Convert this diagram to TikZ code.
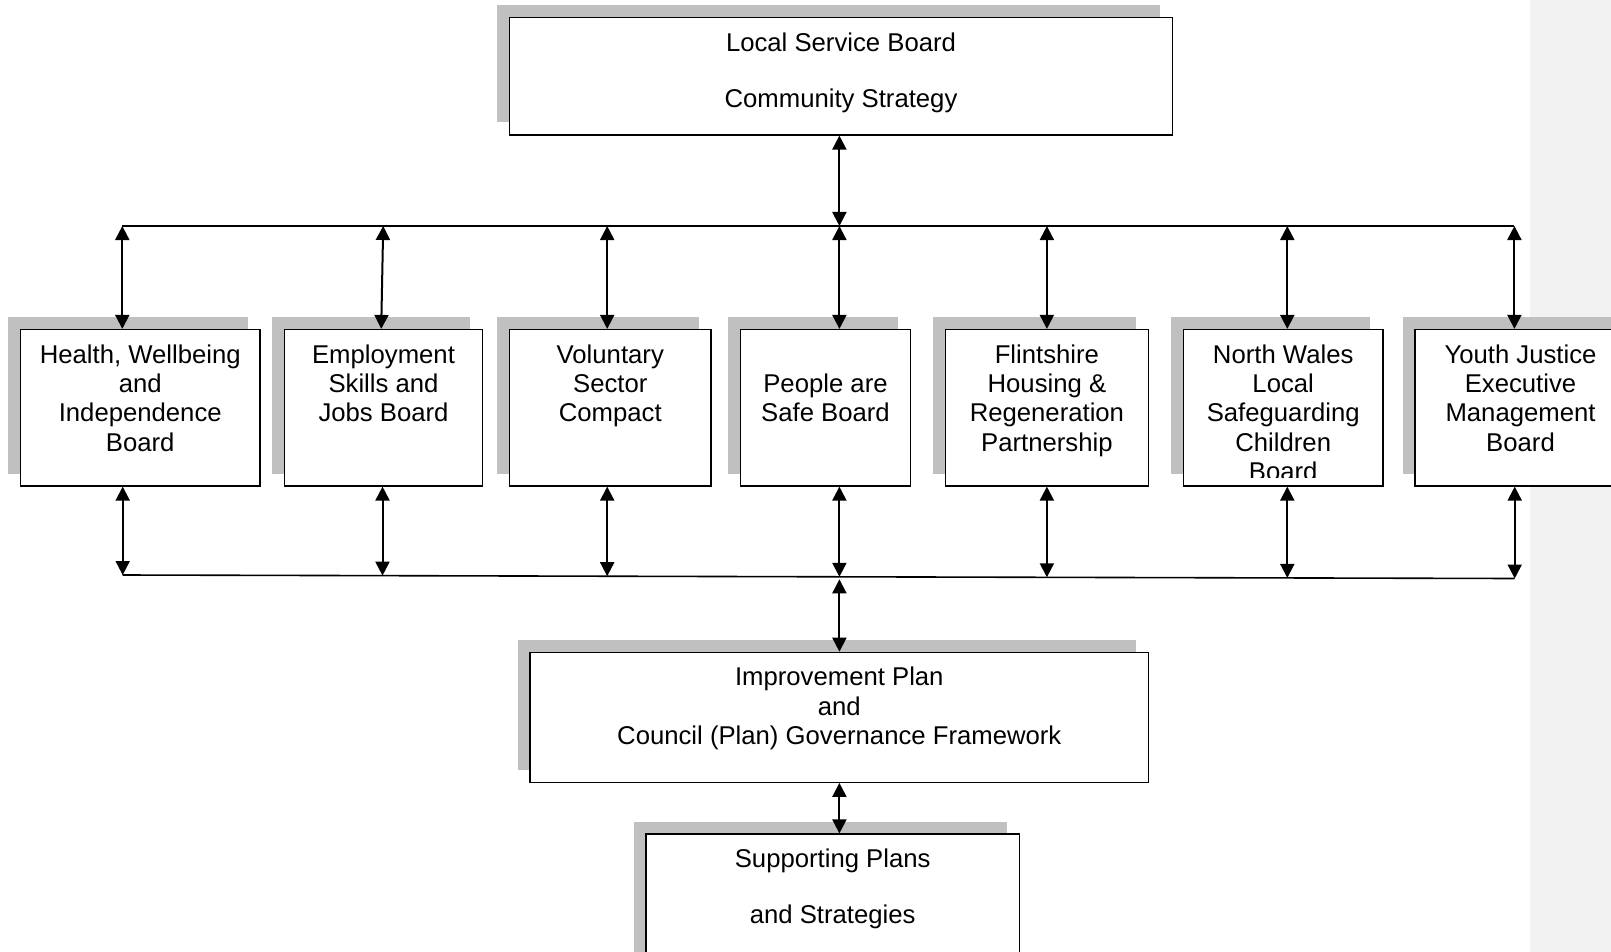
\documentclass[tikz,border=0pt]{standalone}
\usepackage{fontspec}
\setmainfont{Liberation Sans}
\usetikzlibrary{arrows.meta,shadows,calc}
\definecolor{shgray}{HTML}{C0C0C0}
\definecolor{panelgray}{HTML}{F2F2F2}
\begin{document}
\begin{tikzpicture}[x=1pt,y=-1pt,
  box/.style={draw=black, line width=1.2pt, fill=white, inner sep=0pt,
    general shadow={fill=shgray, shadow xshift=-12.5pt, shadow yshift=12.5pt}},
  midbox/.style={box, minimum height=156.5pt},
  lbl/.style={align=center, inner sep=0pt, anchor=north, font=\fontsize{25.7}{29.3}\selectfont},
  dbl/.style={line width=2pt, {Triangle[width=14pt,length=14pt]}-{Triangle[width=14pt,length=14pt]}},
  bus/.style={line width=1.6pt}]
\useasboundingbox (0,0) rectangle (1611,952);
\clip (0,0) rectangle (1611,952);
\fill[white] (0,0) rectangle (1611,952);
\fill[panelgray] (1530,0) rectangle (1611,952);

% top box
\node[box, minimum width=662.7pt, minimum height=117.5pt] (lsb) at (841,76.25) {};
\node[lbl] (lsbt) at ($(lsb.north)+(0,13.5)$) {\strut Local Service Board\\[27.2pt]Community Strategy};

% middle boxes
\node[midbox, minimum width=239.5pt] (hw) at (140.25,407.75) {};
\node[lbl] (hwt) at ($(hw.north)+(0,13.5)$) {\strut Health, Wellbeing\\and\\Independence\\Board};
\node[midbox, minimum width=197.7pt] (emp) at (383.5,407.75) {};
\node[lbl] (empt) at ($(emp.north)+(0,13.5)$) {\strut Employment\\Skills and\\Jobs Board};
\node[midbox, minimum width=201.4pt] (vol) at (610.3,407.75) {};
\node[lbl] (volt) at ($(vol.north)+(0,13.5)$) {\strut Voluntary\\Sector\\Compact};
\node[midbox, minimum width=169.5pt] (peo) at (825.5,407.75) {};
\node[lbl] (peot) at ($(peo.north)+(0,42.8)$) {\strut People are\\Safe Board};
\node[midbox, minimum width=203.4pt] (fli) at (1046.9,407.75) {};
\node[lbl] (flit) at ($(fli.north)+(0,13.5)$) {\strut Flintshire\\Housing \&\\Regeneration\\Partnership};
\node[midbox, minimum width=199.5pt] (nw) at (1283.2,407.75) {};
\begin{scope}
  \clip (1183,329) rectangle (1383,477);
  \node[lbl] (nwt) at ($(nw.north)+(0,13.5)$) {\strut North Wales\\Local\\Safeguarding\\Children\\Board};
\end{scope}
\node[midbox, minimum width=211pt] (yj) at (1520.5,407.75) {};
\node[lbl] (yjt) at ($(yj.north)+(0,13.5)$) {\strut Youth Justice\\Executive\\Management\\Board};

% lower boxes
\node[box, minimum width=618.6pt, minimum height=130pt] (imp) at (839.3,717.3) {};
\node[lbl] (impt) at ($(imp.north)+(0,13.5)$) {\strut Improvement Plan\\and\\Council (Plan) Governance Framework};
\node[box, minimum width=373.3pt, minimum height=150pt] (sup) at (832.7,909) {};
\node[lbl] (supt) at ($(sup.north)+(0,13.5)$) {\strut Supporting Plans\\[26.3pt]and Strategies};

% bus coordinates
\coordinate (u1) at (122.3,226);
\coordinate (u2) at (383.2,226);
\coordinate (u3) at (607.2,226);
\coordinate (u4) at (839.4,226);
\coordinate (u5) at (1046.9,226);
\coordinate (u6) at (1287.3,226);
\coordinate (u7) at (1514.4,226);
\coordinate (d1) at (122.7,575);
\coordinate (d2) at (382.5,575.65);
\coordinate (d3) at (607.2,576.2);
\coordinate (d4) at (839.4,576.8);
\coordinate (d5) at (1046.9,577.3);
\coordinate (d6) at (1287.3,577.9);
\coordinate (d7) at (1514.7,578.5);

\draw[bus] (u1) -- (u7);
\draw[bus] (d1) -- (d7);

% connectors
\draw[dbl] (lsb.south -| u4) -- (u4);
\draw[dbl] (u1) -- (u1 |- hw.north);
\draw[dbl] (u2) -- ($(u2 |- emp.north)+(-2,0)$);
\draw[dbl] (u3) -- (u3 |- vol.north);
\draw[dbl] (u4) -- (u4 |- peo.north);
\draw[dbl] (u5) -- (u5 |- fli.north);
\draw[dbl] (u6) -- (u6 |- nw.north);
\draw[dbl] (u7) -- (u7 |- yj.north);

\draw[dbl] (d1 |- hw.south) -- (d1);
\draw[dbl] (d2 |- emp.south) -- (d2);
\draw[dbl] (d3 |- vol.south) -- (d3);
\draw[dbl] (d4 |- peo.south) -- (d4);
\draw[dbl] (d5 |- fli.south) -- (d5);
\draw[dbl] (d6 |- nw.south) -- (d6);
\draw[dbl] (d7 |- yj.south) -- (d7);

\draw[dbl] ($(d4)+(0,2.5)$) -- (d4 |- imp.north);
\draw[dbl] (imp.south -| d4) -- (d4 |- sup.north);
\end{tikzpicture}
\end{document}
